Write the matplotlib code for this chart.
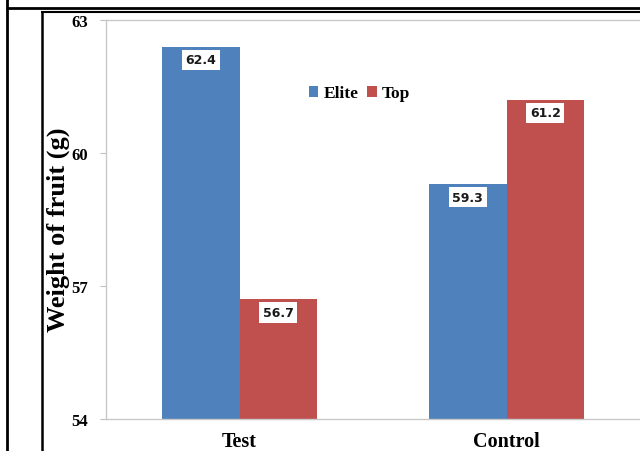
import matplotlib
matplotlib.use("Agg")
import matplotlib.pyplot as plt
from matplotlib.lines import Line2D
import numpy as np

categories = ["Test", "Control"]
series_names = ["Elite", "Top"]
elite = [62.4, 59.3]
top = [56.7, 61.2]
y_ticks = [54, 57, 60, 63]

colors = ["#4F81BD", "#C0504D"]
serif = "Liberation Serif"

fig = plt.figure(figsize=(6.4, 4.52), dpi=100)
W, H = 640, 452

# frame lines around the figure
def hline(y, x0, x1, lw):
    fig.add_artist(Line2D([x0 / W, x1 / W], [1 - y / H, 1 - y / H], color="black", lw=lw,
                          transform=fig.transFigure, solid_capstyle="butt"))

def vline(x, y0, y1, lw):
    fig.add_artist(Line2D([x / W, x / W], [1 - y0 / H, 1 - y1 / H], color="black", lw=lw,
                          transform=fig.transFigure, solid_capstyle="butt"))

hline(9, 6, 640, 2.0)
vline(7, 0, 452, 2.0)
hline(12.5, 41, 640, 1.5)
vline(42, 12, 452, 1.8)

ax = fig.add_axes([106 / W, (H - 420) / H, (640 - 106) / W, (420 - 21) / H])

x = np.arange(len(categories))
bw = 0.29
b1 = ax.bar(x - bw / 2, elite, bw, color=colors[0], label=series_names[0], zorder=2)
b2 = ax.bar(x + bw / 2, top, bw, color=colors[1], label=series_names[1], zorder=2)

for bars, vals in ((b1, elite), (b2, top)):
    for rect, v in zip(bars, vals):
        ax.annotate(f"{v:.1f}", (rect.get_x() + rect.get_width() / 2, v),
                    xytext=(0, -9.5), textcoords="offset points", ha="center", va="center",
                    fontsize=9, fontweight="bold", family="DejaVu Sans", color="#1a1a1a",
                    bbox=dict(boxstyle="square,pad=0.3", fc="white", ec="none"), zorder=3)

ax.set_xlim(-0.5, 1.5)
ax.set_ylim(54, 63)
ax.set_yticks(y_ticks)
ax.set_yticklabels([str(t) for t in y_ticks], family=serif, fontweight="bold", fontsize=12)
ax.set_xticks(x)
ax.set_xticklabels(categories, family=serif, fontweight="bold", fontsize=14.5)
ax.tick_params(axis="y", length=4, color="#bfbfbf", pad=9)
ax.tick_params(axis="x", length=0, pad=9)

for s in ("left", "bottom", "top"):
    ax.spines[s].set_color("#c8c8c8")
    ax.spines[s].set_linewidth(1.0)
ax.spines["right"].set_visible(False)

ax.set_ylabel("Weight of fruit (g)", family=serif, fontweight="bold", fontsize=19)
ax.yaxis.set_label_coords((70 - 106) / 534, (420 - 230) / 399)

leg = ax.legend(loc="upper center", bbox_to_anchor=(0.475, 0.875), ncol=2, frameon=False,
                prop={"family": serif, "weight": "bold", "size": 12.5},
                handlelength=0.55, handleheight=0.55, handletextpad=0.3, columnspacing=0.5)

fig.savefig("out.png", dpi=100)
